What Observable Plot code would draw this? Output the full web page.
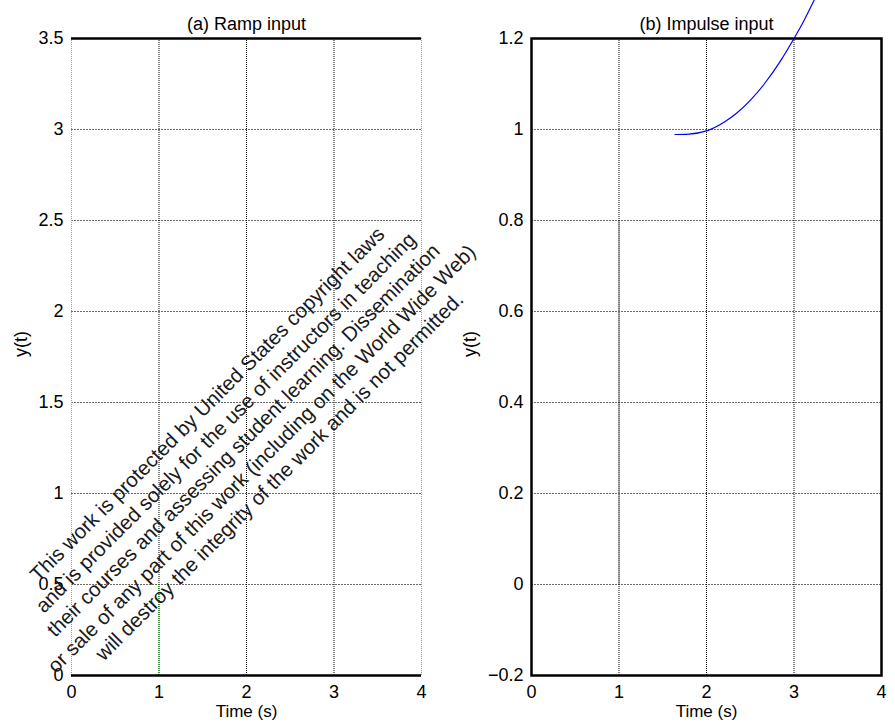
<!DOCTYPE html>
<html>
<head>
<meta charset="utf-8">
<script src="https://cdn.jsdelivr.net/npm/d3@7"></script>
<script src="https://cdn.jsdelivr.net/npm/@observablehq/plot@0.6"></script>
<style>
  html, body { margin: 0; padding: 0; background: #fff; }
  #wrap { position: relative; width: 895px; height: 725px; overflow: hidden; background: #fff; }
  #left, #right { position: absolute; top: 0; }
  #left { left: 0; }
  #right { left: 450px; }
  #wm {
    position: absolute; left: 243px; top: 440px;
    transform: translate(-50%, -50%) rotate(-45deg);
    font-family: "Liberation Sans", Arial, sans-serif;
    font-size: 20.5px; line-height: 25.5px; color: #1a1a1a;
    text-align: center; white-space: pre; pointer-events: none;
  }
</style>
</head>
<body>
<div id="wrap">
  <div id="left"></div>
  <div id="right"></div>
  <div id="wm"></div>
</div>
<script>
// ---- data ----
const titles = ["(a) Ramp input", "(b) Impulse input"];
const xLabel = "Time (s)";
const yLabel = "y(t)";
const xTicks = [0, 1, 2, 3, 4];
const xInnerTicks = [1, 2, 3];
const xEdgeTicks = [0, 4];
const yTicksA = [0, 0.5, 1, 1.5, 2, 2.5, 3, 3.5];
const yGridA = [0.5, 1, 1.5, 2, 2.5, 3];
const yDomainA = [0, 3.5];
const yTicksB = [-0.2, 0, 0.2, 0.4, 0.6, 0.8, 1, 1.2];
const yGridB = [0, 0.2, 0.4, 0.6, 0.8, 1];
const yDomainB = [-0.2, 1.2];
// green input marker (dotted) at t = 1
const greenA = [{t: 1, y1: 0, y2: 0.5}];
const greenB = [{t: 1, y1: 0, y2: 0.8}];
// blue response in panel (b)
const respT = [1.64, 1.8, 2.0, 2.2, 2.35, 2.5, 2.66, 2.85, 3.0, 3.1, 3.23];
const respY = [0.989, 0.990, 0.997, 1.016, 1.037, 1.064, 1.100, 1.152, 1.200, 1.234, 1.284];
const watermark = [
  "This work is protected by United States copyright laws",
  "and is provided solely for the use of instructors in teaching",
  "their courses and assessing student learning. Dissemination",
  "or sale of any part of this work (including on the World Wide Web)",
  "will destroy the integrity of the work and is not permitted."
];

const resp = respT.map((t, i) => ({t, y: respY[i]}));
const fmt = d => String(d).replace("-", "\u2212");
const font = {fontFamily: "'Liberation Sans', Arial, sans-serif", fontSize: "18px", background: "transparent", overflow: "visible"};

function axes(yTicks, yDomain) {
  return {
    x: {domain: [0, 4], ticks: xTicks, tickFormat: fmt, tickSize: 0, tickPadding: 10, label: null},
    y: {domain: yDomain, ticks: yTicks, tickFormat: fmt, tickSize: 0, tickPadding: 8, label: null}
  };
}

const left = Plot.plot({
  width: 450, height: 725,
  marginLeft: 71, marginRight: 29, marginTop: 38, marginBottom: 50,
  style: font,
  ...axes(yTicksA, yDomainA),
  marks: [
    Plot.ruleY(yGridA, {stroke: "#6a6a6a", strokeWidth: 1, strokeDasharray: "2,1"}),
    Plot.ruleX(xInnerTicks, {stroke: "#000", strokeWidth: 1, strokeDasharray: "1,1"}),
    Plot.ruleX(xEdgeTicks, {stroke: "#999", strokeWidth: 1, strokeDasharray: "1,1"}),
    Plot.ruleX(greenA, {x: "t", y1: "y1", y2: "y2", stroke: "#00a000", strokeWidth: 1, strokeDasharray: "1,1"}),
    Plot.ruleY(yDomainA, {stroke: "#000", strokeWidth: 2.5}),
    Plot.text([titles[0]], {frameAnchor: "top", dy: -21, fill: "#000", fontSize: 18}),
    Plot.text([xLabel], {frameAnchor: "bottom", dy: 41, fill: "#000", fontSize: 17}),
    Plot.text([yLabel], {frameAnchor: "left", dx: -50, rotate: -90, fill: "#000", fontSize: 18})
  ]
});
document.getElementById("left").appendChild(left);

const right = Plot.plot({
  width: 445, height: 725,
  marginLeft: 81, marginRight: 14, marginTop: 38, marginBottom: 50,
  style: font,
  ...axes(yTicksB, yDomainB),
  marks: [
    Plot.ruleY(yGridB, {stroke: "#6a6a6a", strokeWidth: 1, strokeDasharray: "2,1"}),
    Plot.ruleX(xInnerTicks, {stroke: "#000", strokeWidth: 1, strokeDasharray: "1,1"}),
    Plot.ruleX(greenB, {x: "t", y1: "y1", y2: "y2", stroke: "#00a000", strokeWidth: 1, strokeDasharray: "1,1"}),
    Plot.line(resp, {x: "t", y: "y", stroke: "#0000ff", strokeWidth: 1.2, curve: "monotone-x"}),
    Plot.frame({stroke: "#000", strokeWidth: 2.5}),
    Plot.text([titles[1]], {frameAnchor: "top", dy: -21, fill: "#000", fontSize: 18}),
    Plot.text([xLabel], {frameAnchor: "bottom", dy: 41, fill: "#000", fontSize: 17}),
    Plot.text([yLabel], {frameAnchor: "left", dx: -61, rotate: -90, fill: "#000", fontSize: 18})
  ]
});
document.getElementById("right").appendChild(right);

document.getElementById("wm").textContent = watermark.join("\n");
</script>
</body>
</html>
